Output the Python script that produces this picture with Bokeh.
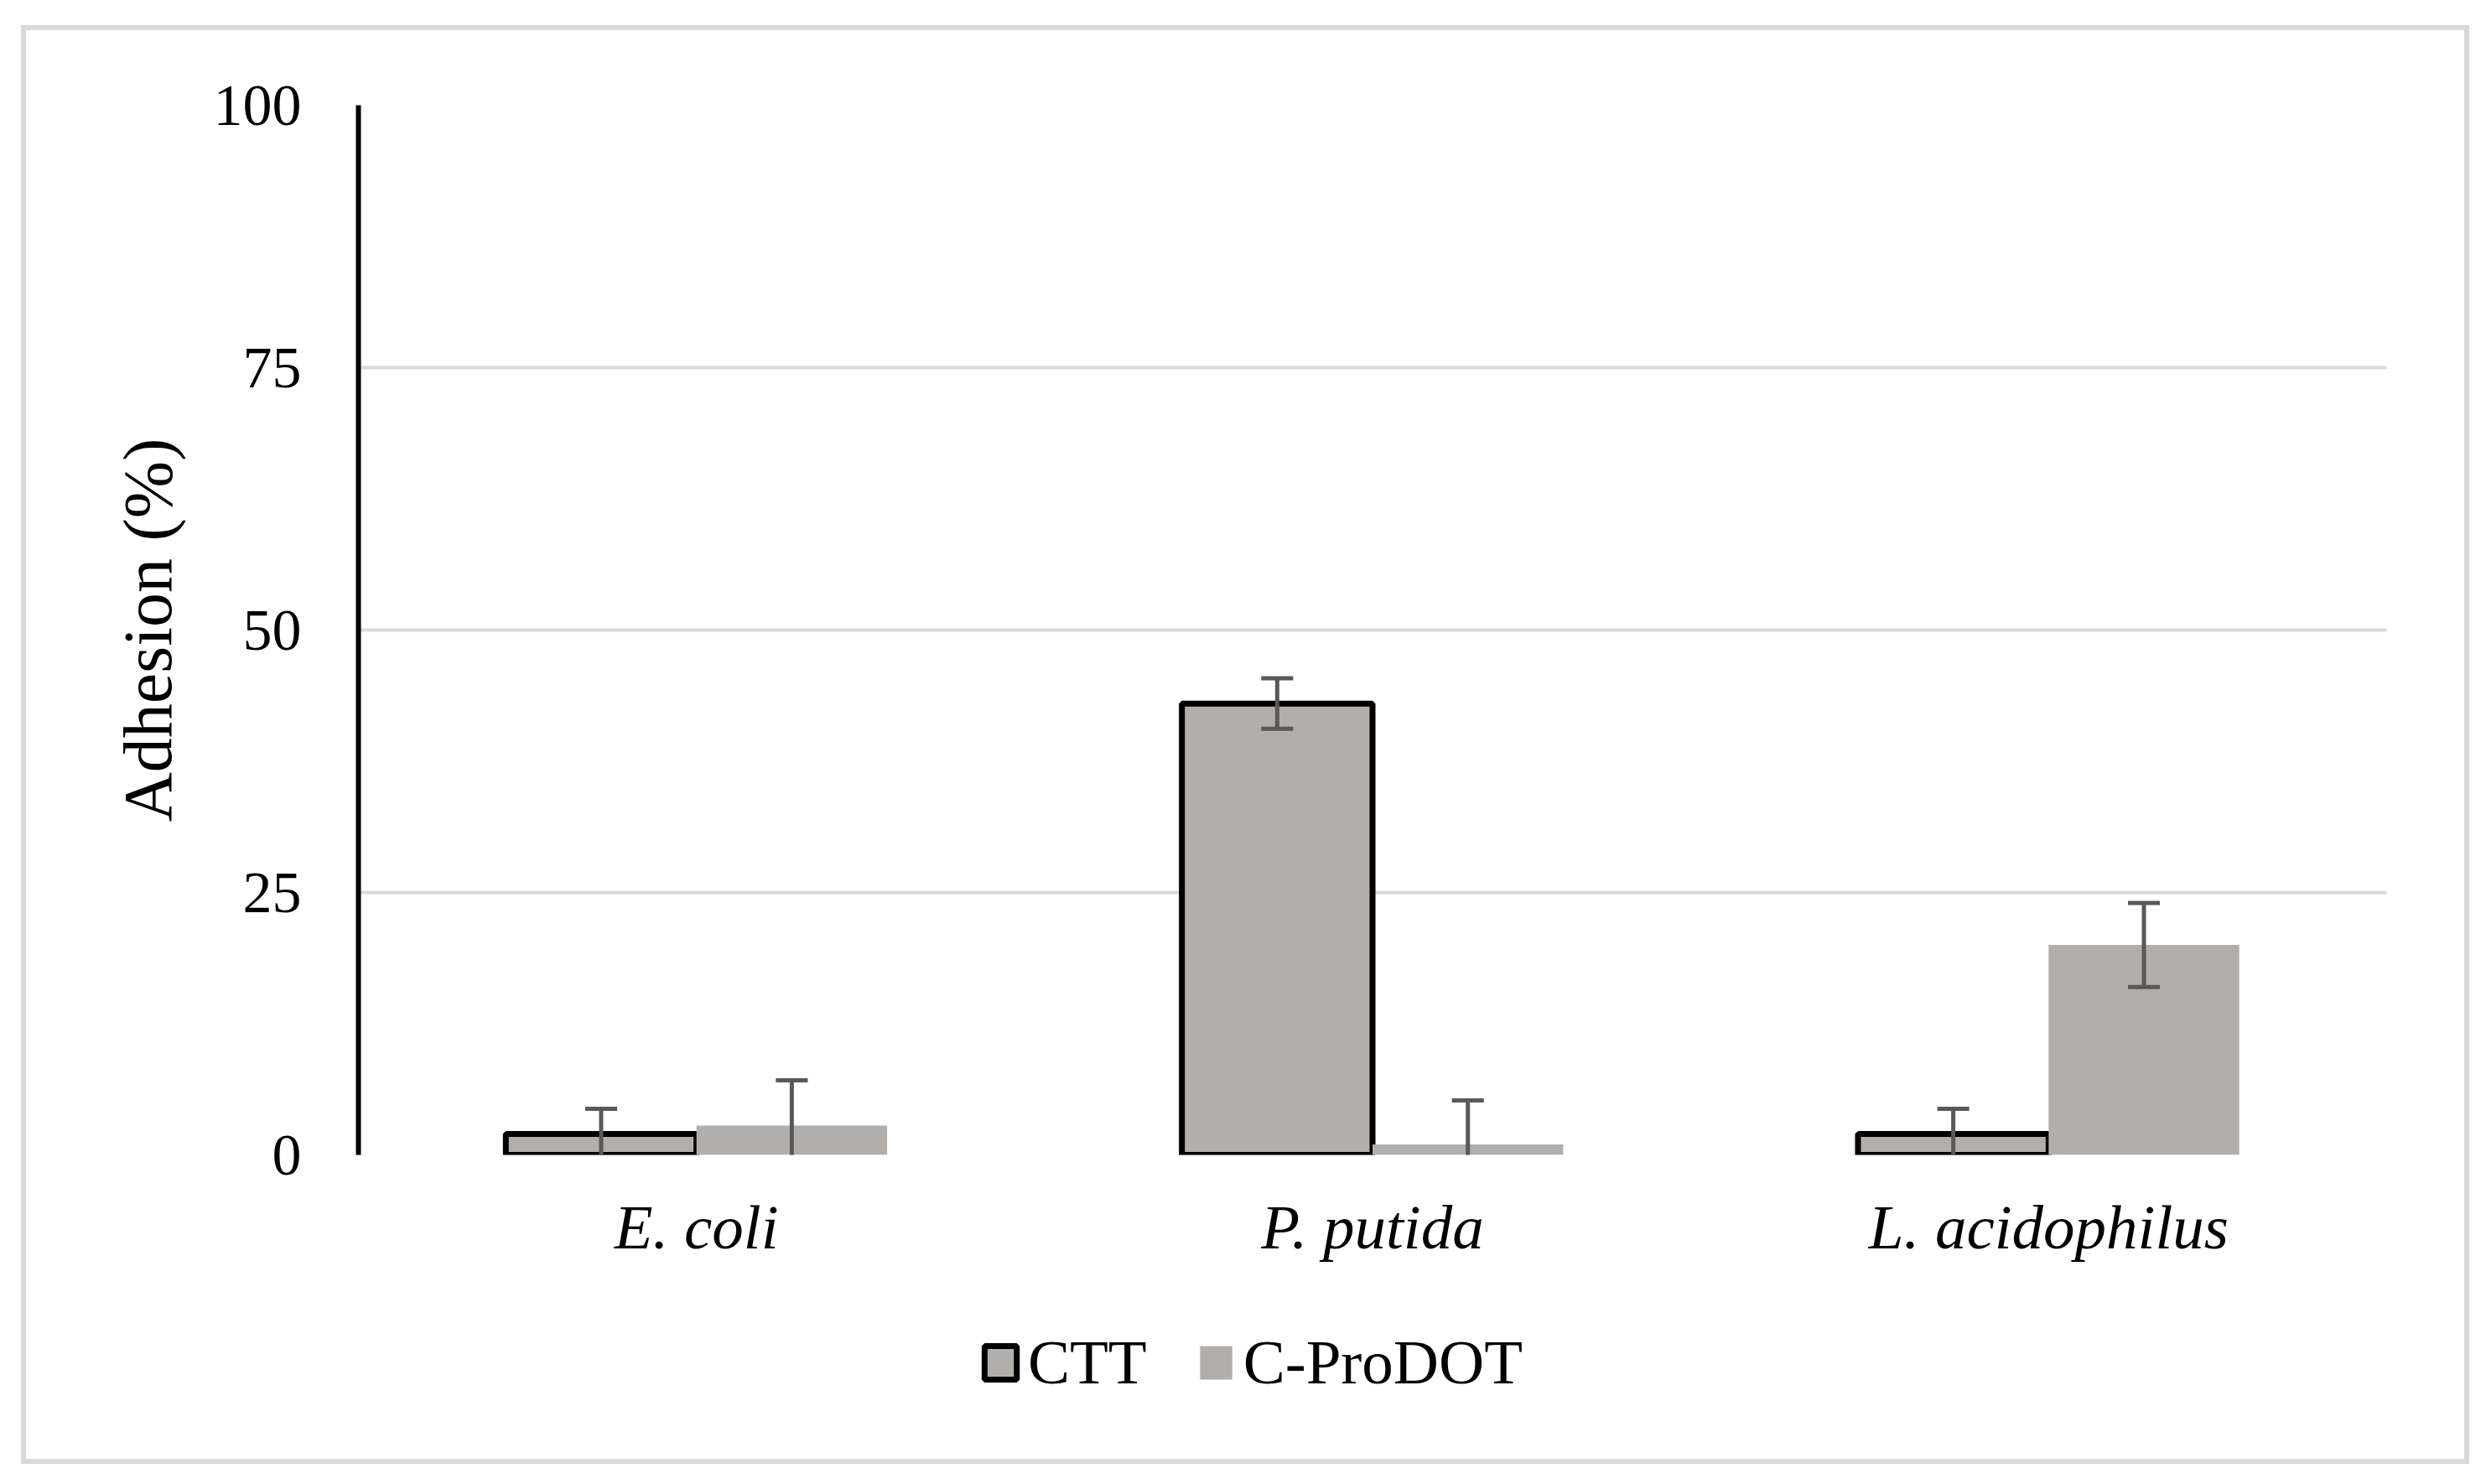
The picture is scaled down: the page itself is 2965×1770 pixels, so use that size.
from bokeh.plotting import figure
from bokeh.layouts import column
from bokeh.models import (ColumnDataSource, FactorRange, Range1d, FixedTicker,
                          Legend, LegendItem)
from bokeh.transform import dodge
from bokeh.embed import file_html
from bokeh.resources import INLINE

# ---- data ----
categories = ["E. coli", "P. putida", "L. acidophilus"]
series_names = ["CTT", "C-ProDOT"]
ctt = [2.0, 43.0, 2.0]
ctt_err = [2.4, 2.4, 2.4]
cprodot = [2.8, 1.0, 20.0]
cprodot_err = [4.3, 4.2, 4.0]
y_ticks = [0, 25, 50, 75, 100]

FONT = "Liberation Serif"
BAR_FILL = "#b2aeab"
ERR_COLOR = "#595959"
GRID_COLOR = "#d9d9d9"

W, H = 2960, 1756
HM = 1510            # height of the chart part
HL = H - HM          # height of the legend strip

p = figure(width=W, height=HM, output_backend="svg", toolbar_location=None,
           x_range=FactorRange(*categories, range_padding=0),
           y_range=Range1d(0, 100),
           min_border_left=422, min_border_right=119,
           min_border_top=115, min_border_bottom=HM - 1367)
p.outline_line_color = None
p.background_fill_alpha = 0
p.border_fill_alpha = 0

src = ColumnDataSource(dict(
    cat=categories,
    ctt=ctt, ctt_hi=[v + e for v, e in zip(ctt, ctt_err)], ctt_lo=[v - e for v, e in zip(ctt, ctt_err)],
    cp=cprodot, cp_hi=[v + e for v, e in zip(cprodot, cprodot_err)], cp_lo=[v - e for v, e in zip(cprodot, cprodot_err)],
))

bw = 0.282
off = bw / 2
cap = 0.0236

ctt_style = dict(fill_color=BAR_FILL, line_color="black", line_width=7)
cp_style = dict(fill_color=BAR_FILL, line_color=None)

p.vbar(x=dodge("cat", -off, range=p.x_range), top="ctt", width=bw, source=src, **ctt_style)
p.vbar(x=dodge("cat", off, range=p.x_range), top="cp", width=bw, source=src, **cp_style)

for o, hi, lo in [(-off, "ctt_hi", "ctt_lo"), (off, "cp_hi", "cp_lo")]:
    p.segment(x0=dodge("cat", o, range=p.x_range), x1=dodge("cat", o, range=p.x_range),
              y0=lo, y1=hi, source=src, line_color=ERR_COLOR, line_width=5)
    for end in (hi, lo):
        p.segment(x0=dodge("cat", o - cap, range=p.x_range), x1=dodge("cat", o + cap, range=p.x_range),
                  y0=end, y1=end, source=src, line_color=ERR_COLOR, line_width=5)

# axes
p.yaxis.ticker = FixedTicker(ticks=y_ticks)
p.yaxis.axis_line_color = "black"
p.yaxis.axis_line_width = 6
p.yaxis.major_tick_line_color = None
p.yaxis.minor_tick_line_color = None
p.yaxis.major_label_standoff = 62
p.yaxis.major_label_text_font = FONT
p.yaxis.major_label_text_font_size = "70px"
p.yaxis.major_label_text_color = "black"
p.yaxis.axis_label = "Adhesion (%)"
p.yaxis.axis_label_text_font = FONT
p.yaxis.axis_label_text_font_style = "normal"
p.yaxis.axis_label_text_font_size = "82px"
p.yaxis.axis_label_text_color = "black"
p.yaxis.axis_label_standoff = 30

p.xaxis.axis_line_color = None
p.xaxis.major_tick_line_color = None
p.xaxis.minor_tick_line_color = None
p.xaxis.major_label_standoff = 38
p.xaxis.major_label_text_font = FONT
p.xaxis.major_label_text_font_style = "italic"
p.xaxis.major_label_text_font_size = "75px"
p.xaxis.major_label_text_color = "black"

p.xgrid.grid_line_color = None
p.ygrid.grid_line_color = GRID_COLOR
p.ygrid.grid_line_width = 4

# ---- legend strip (its own small figure, so nothing is clipped) ----
pl = figure(width=W, height=HL, output_backend="svg", toolbar_location=None,
            x_range=Range1d(0, 1), y_range=Range1d(0, 1),
            x_axis_type=None, y_axis_type=None,
            min_border_left=0, min_border_right=0, min_border_top=0, min_border_bottom=0)
pl.outline_line_color = None
pl.background_fill_alpha = 0
pl.border_fill_alpha = 0
pl.xgrid.visible = False
pl.ygrid.visible = False
# proxy glyphs for the legend swatches only (NaN: nothing drawn in the strip)
leg_src = ColumnDataSource(dict(x=[float("nan")], top=[float("nan")]))
l_ctt = pl.vbar(x="x", top="top", width=0.1, source=leg_src, **ctt_style)
l_cp = pl.vbar(x="x", top="top", width=0.1, source=leg_src, **cp_style)

legend = Legend(items=[LegendItem(label=series_names[0], renderers=[l_ctt]),
                       LegendItem(label=series_names[1], renderers=[l_cp])],
                orientation="horizontal", location=(742, 98),
                glyph_width=48, glyph_height=50, label_height=50,
                label_standoff=9, spacing=58, padding=0, margin=0,
                border_line_color=None, background_fill_alpha=0,
                label_text_font=FONT, label_text_font_size="75px",
                label_text_color="black")
pl.add_layout(legend, "center")

lay = column(p, pl, spacing=0,
             styles={"margin-left": "5px", "margin-top": "10px",
                     "outline": "6px solid #d9d9d9", "outline-offset": "-26px"})

open("out.html", "w").write(file_html(lay, INLINE))
